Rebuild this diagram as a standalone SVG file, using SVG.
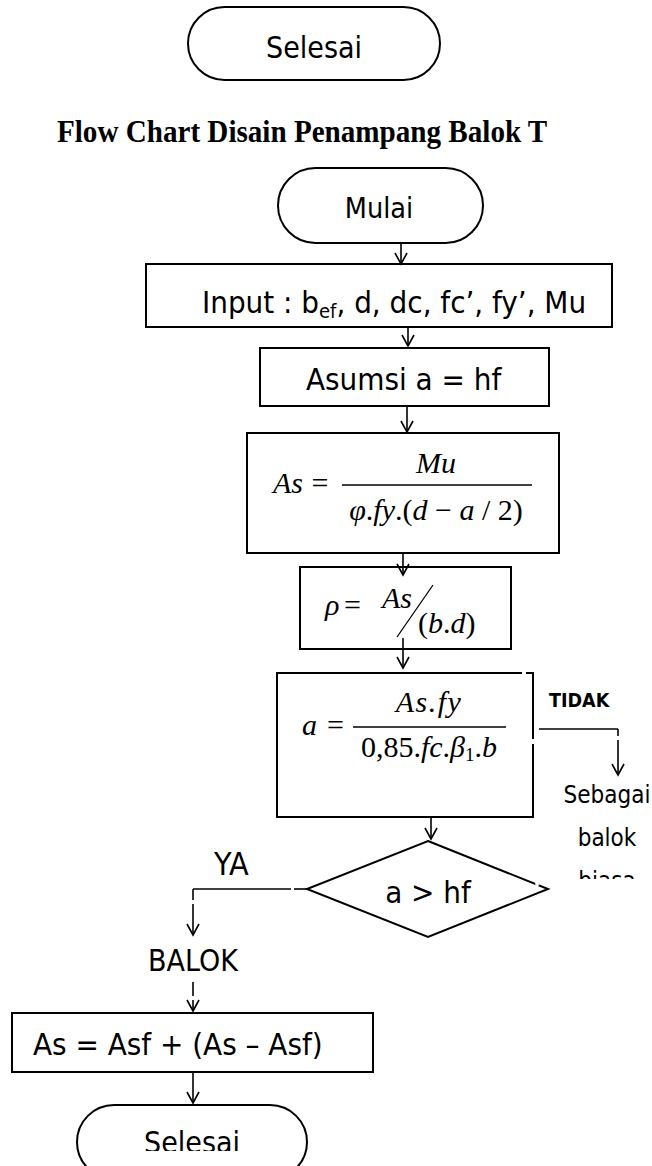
<svg xmlns="http://www.w3.org/2000/svg" width="652" height="1166" viewBox="0 0 652 1166">
  <style>
    .box { fill: #fff; stroke: #000; stroke-width: 2; }
    .con { fill: none; stroke: #000; stroke-width: 1.6; }
    .gap { stroke: #fff; stroke-width: 3; }
    .t { font-family: "DejaVu Sans Condensed", "DejaVu Sans", sans-serif; fill: #000; }
    .m { font-family: "Liberation Serif", "Times New Roman", serif; font-size: 30px; fill: #000; }
    .i { font-style: italic; }
    .mid { text-anchor: middle; }
  </style>
  <defs>
    <marker id="ah" markerUnits="userSpaceOnUse" markerWidth="14" markerHeight="14" refX="11" refY="6" orient="auto" overflow="visible">
      <path d="M0,0 L11,6 L0,12" fill="none" stroke="#000" stroke-width="1.6"/>
    </marker>
    <clipPath id="clipBiasa"><rect x="540" y="860" width="112" height="19"/></clipPath>
    <clipPath id="clipEnd"><rect x="60" y="1110" width="260" height="41"/></clipPath>
  </defs>

  <!-- end terminator of the preceding chart -->
  <g id="selesai-top">
    <rect class="box" x="188" y="7" width="252" height="73" rx="36.5"/>
    <text class="t mid" x="314" y="58" font-size="30">Selesai</text>
  </g>

  <g id="title">
    <text transform="translate(57,142) scale(0.91,1)" font-family="'Liberation Serif', 'Times New Roman', serif" font-weight="bold" font-size="32">Flow Chart Disain Penampang Balok T</text>
  </g>

  <g id="mulai">
    <rect class="box" x="278" y="168" width="205" height="75" rx="37.5"/>
    <text class="t mid" x="379" y="218" font-size="28.5">Mulai</text>
  </g>

  <g id="input">
    <rect class="box" x="146" y="264" width="466" height="63"/>
    <text class="t" x="202" y="313" font-size="31">Input : b<tspan font-size="20" dy="5">ef</tspan><tspan dy="-5">, d, dc, fc’, fy’, Mu</tspan></text>
  </g>

  <g id="asumsi">
    <rect class="box" x="260" y="348" width="289" height="58"/>
    <text class="t" x="306" y="390" font-size="31">Asumsi a = hf</text>
  </g>

  <g id="as-formula">
    <rect class="box" x="247" y="433" width="312" height="120"/>
    <text class="m i" x="273" y="493">As</text>
    <text class="m mid" x="320" y="493">=</text>
    <line x1="342" y1="485" x2="532" y2="485" stroke="#000" stroke-width="1.3"/>
    <text class="m i mid" x="436" y="473">Mu</text>
    <text class="m mid" x="436" y="520"><tspan class="i">φ</tspan>.<tspan class="i">fy</tspan>.(<tspan class="i">d</tspan> − <tspan class="i">a</tspan> / 2)</text>
  </g>

  <g id="rho">
    <rect class="box" x="300" y="567" width="211" height="82"/>
    <text class="m i" x="325" y="615">ρ</text>
    <text class="m" x="344" y="615">=</text>
    <text class="m i" x="382" y="608">As</text>
    <line x1="433" y1="585" x2="397" y2="637" stroke="#000" stroke-width="1.3"/>
    <text class="m" x="418" y="633">(<tspan class="i">b</tspan>.<tspan class="i">d</tspan>)</text>
  </g>

  <g id="a-formula">
    <rect class="box" x="277" y="673" width="256" height="144"/>
    <line class="gap" x1="522" y1="673" x2="526" y2="673"/>
    <line class="gap" x1="533" y1="739" x2="533" y2="744"/>
    <text class="m i" x="302" y="735" font-size="32">a</text>
    <text class="m" x="327" y="735" font-size="32">=</text>
    <line x1="353" y1="727" x2="506" y2="727" stroke="#000" stroke-width="1.3"/>
    <text class="m i mid" x="429" y="712" font-size="31" letter-spacing="1.5">As.fy</text>
    <text class="m mid" x="429" y="757" font-size="31">0,85.<tspan class="i">fc</tspan>.<tspan class="i">β</tspan><tspan font-size="19" dy="4">1</tspan><tspan dy="-4">.</tspan><tspan class="i">b</tspan></text>
  </g>

  <g id="decision">
    <polygon class="box" points="428,841 548,889 428,937 307,889"/>
    <line class="gap" x1="536" y1="883" x2="538" y2="886"/>
    <text class="t mid" x="428" y="903" font-size="31">a &gt; hf</text>
  </g>

  <g id="sebagai">
    <text class="t mid" x="607" y="803" font-size="24">Sebagai</text>
    <text class="t mid" x="607" y="846" font-size="24">balok</text>
    <text class="t mid" x="607" y="889" font-size="24" clip-path="url(#clipBiasa)">biasa</text>
  </g>

  <g id="balok-label">
    <text class="t mid" x="193" y="971" font-size="30">BALOK</text>
  </g>

  <g id="as-total">
    <rect class="box" x="12" y="1013" width="361" height="59"/>
    <text class="t" x="33" y="1055" font-size="31">As = Asf + (As – Asf)</text>
  </g>

  <g id="selesai-end">
    <rect class="box" x="77" y="1105" width="230" height="74" rx="37"/>
    <text class="t mid" x="192" y="1153" font-size="30" clip-path="url(#clipEnd)">Selesai</text>
  </g>

  <g id="labels">
    <text class="t" x="549" y="707" font-size="19.5" font-weight="bold">TIDAK</text>
    <text class="t" x="214" y="875" font-size="32">YA</text>
  </g>

  <g id="connectors">
    <line class="con" x1="401" y1="243" x2="401" y2="264" marker-end="url(#ah)"/>
    <line class="con" x1="408" y1="327" x2="408" y2="346" marker-end="url(#ah)"/>
    <line class="con" x1="407" y1="406" x2="407" y2="432" marker-end="url(#ah)"/>
    <line class="con" x1="403" y1="553" x2="403" y2="575" marker-end="url(#ah)"/>
    <line class="con" x1="403" y1="638" x2="403" y2="668" marker-end="url(#ah)"/>
    <line class="con" x1="431" y1="817" x2="431" y2="839" marker-end="url(#ah)"/>
    <!-- TIDAK branch -->
    <line class="con" x1="539" y1="729" x2="618" y2="729"/>
    <line class="con" x1="618" y1="729" x2="618" y2="736"/>
    <line class="con" x1="618" y1="740" x2="618" y2="775" marker-end="url(#ah)"/>
    <!-- YA branch -->
    <line class="con" x1="307" y1="889" x2="294" y2="889"/>
    <line class="con" x1="291" y1="889" x2="193" y2="889"/>
    <line class="con" x1="193" y1="889" x2="193" y2="900"/>
    <line class="con" x1="193" y1="904" x2="193" y2="935" marker-end="url(#ah)"/>
    <!-- BALOK to final area -->
    <line class="con" x1="193" y1="982" x2="193" y2="996"/>
    <line class="con" x1="193" y1="1000" x2="193" y2="1011" marker-end="url(#ah)"/>
    <line class="con" x1="193" y1="1072" x2="193" y2="1103" marker-end="url(#ah)"/>
  </g>
</svg>
